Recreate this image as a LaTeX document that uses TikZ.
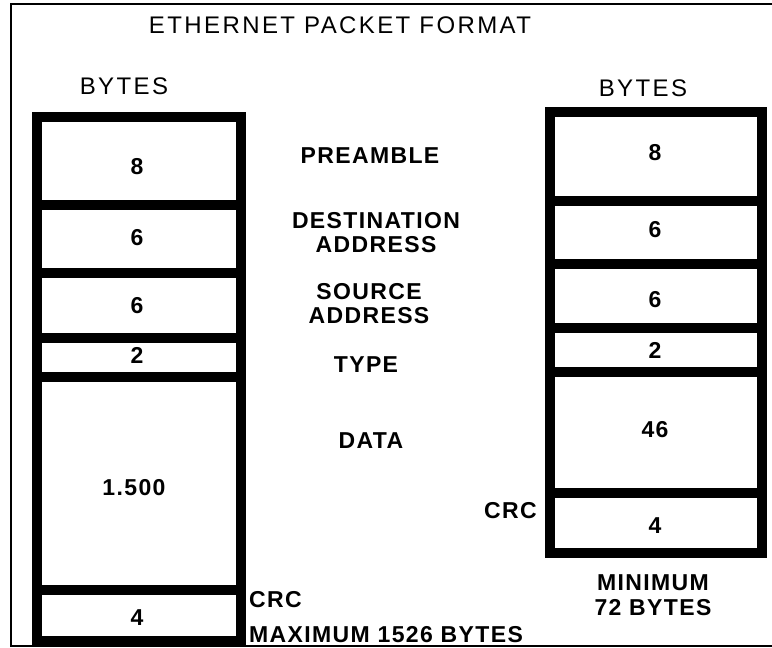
\documentclass[tikz,border=0pt]{standalone}
\usepackage{fontspec}
\setmainfont{Liberation Sans}
\newfontfamily\headfont[LetterSpace=10]{Liberation Sans}
\newfontfamily\fieldfont[LetterSpace=6]{Liberation Sans}

\begin{document}
\begin{tikzpicture}[x=1pt, y=-1pt, every node/.style={align=center, inner sep=0pt},
    head/.style={font=\headfont\fontsize{24}{26}\selectfont},
    field/.style={font=\fieldfont\bfseries\fontsize{23}{24}\selectfont},
    frame/.style={line width=9.5pt}]
    \useasboundingbox (0,0) rectangle (772,648);
    % outer border
    \draw[line width=2.5pt] (772,4) -- (11,4) -- (11,646) -- (772,646);
    % maximum packet
    \draw[frame] (37,117) rectangle (241,641);
    \foreach \y in {205,273,338,377,590} \draw[frame] (37,\y) -- (241,\y);
    % minimum packet
    \draw[frame] (550,112) rectangle (762,553);
    \foreach \y in {201,264,328,372,493} \draw[frame] (550,\y) -- (762,\y);
    \node[head] (title) at (340,25) {ETHERNET PACKET FORMAT};
    \node[head] (bytesMax) at (124,86) {BYTES};
    \node[head] (bytesMin) at (643,88) {BYTES};
    \node[field] (maxPre)  at (137,167) {8};
    \node[field] (maxDst)  at (137,238) {6};
    \node[field] (maxSrc)  at (137,306) {6};
    \node[field] (maxType) at (137,355) {2};
    \node[field] (maxData) at (134,488) {1.500};
    \node[field] (maxCrc)  at (137,618) {4};
    \node[field] (namePre)  at (370,156) {PREAMBLE};
    \node[field] (nameDst)  at (376,233) {DESTINATION\\ADDRESS};
    \node[field] (nameSrc)  at (369,304) {SOURCE\\ADDRESS};
    \node[field] (nameType) at (366,365) {TYPE};
    \node[field] (nameData) at (371,441) {DATA};
    \node[field] (minPre)  at (655,153) {8};
    \node[field] (minDst)  at (655,230) {6};
    \node[field] (minSrc)  at (655,300) {6};
    \node[field] (minType) at (655,350) {2};
    \node[field] (minData) at (655,430) {46};
    \node[field] (minCrc)  at (655,526) {4};
    \node[field, anchor=east] (crcMin) at (537,511) {CRC};
    \node[field, anchor=west] (crcMax) at (249,600) {CRC};
    \node[field, anchor=west] (maxNote) at (249,635) {MAXIMUM 1526 BYTES};
    \node[field] (minNote) at (653,595) {MINIMUM\\[1pt]72 BYTES};
\end{tikzpicture}
\end{document}
